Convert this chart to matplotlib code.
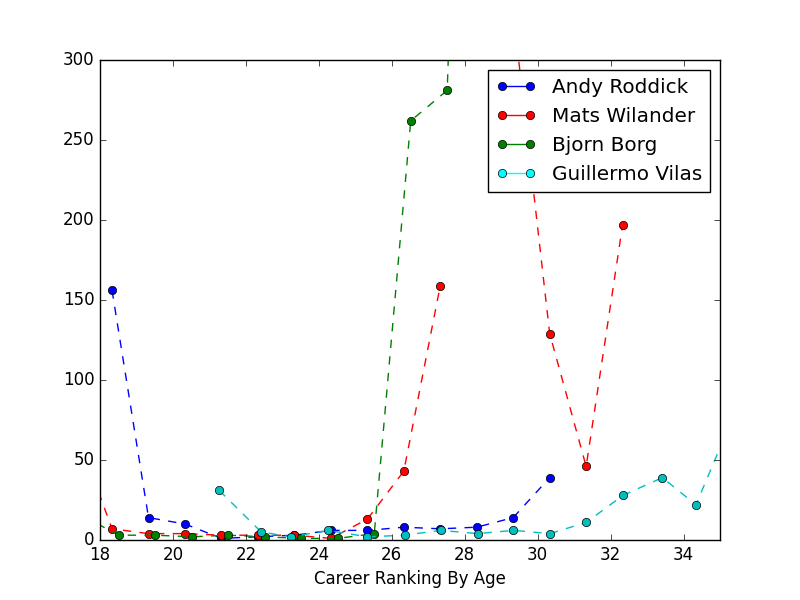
import numpy as np
import matplotlib
matplotlib.use('Agg')
import matplotlib.pyplot as plt
from matplotlib.lines import Line2D

plt.style.use('classic')

## Year-end ranking by age for each player
roddick_age = [18.33, 19.33, 20.33, 21.33, 22.33, 23.33, 24.33, 25.33, 26.33, 27.33, 28.33, 29.33, 30.33]
roddick_rank = [156, 14, 10, 1, 2, 3, 6, 6, 8, 7, 8, 14, 39]

wilander_age = [17.33, 18.33, 19.33, 20.33, 21.33, 22.33, 23.33, 24.33, 25.33, 26.33, 27.33,
                28.33, 29.33, 30.33, 31.33, 32.33]
wilander_rank = [69, 7, 4, 4, 3, 3, 3, 1, 13, 43, 159, np.nan, 330, 129, 46, 197]

borg_age = [17.52, 18.52, 19.52, 20.52, 21.52, 22.52, 23.52, 24.52, 25.52, 26.52, 27.52, 28.52]
borg_rank = [15, 3, 3, 2, 3, 2, 1, 1, 4, 262, 281, 950]

vilas_age = [21.27, 22.42, 23.24, 24.26, 25.33, 26.35, 27.34, 28.36, 29.33, 30.34, 31.33,
             32.35, 33.42, 34.34, 35.34]
vilas_rank = [31, 5, 2, 6, 2, 3, 6, 4, 6, 4, 11, 28, 39, 22, 76]

players = ['Andy Roddick', 'Mats Wilander', 'Bjorn Borg', 'Guillermo Vilas']
legend_colors = ['blue', 'red', 'green', 'cyan']

fig = plt.figure(figsize=(8, 6), facecolor='white')
ax = fig.add_subplot(111)

ax.plot(roddick_age, roddick_rank, 'b--o', mec='k', mew=0.5)
ax.plot(wilander_age, wilander_rank, 'r--o', mec='k', mew=0.5)
ax.plot(borg_age, borg_rank, 'g--o', mec='k', mew=0.5)
ax.plot(vilas_age, vilas_rank, 'c--o', mec='k', mew=0.5)

ax.set_xlim(18, 35)
ax.set_ylim(0, 300)
ax.set_xlabel('Career Ranking By Age')

# legend uses solid handles
handles = [Line2D([], [], color=c, marker='o', mec='k', mew=0.5, linestyle='-')
           for c in legend_colors]
ax.legend(handles, players, loc='upper right', numpoints=2, fontsize='large',
          handlelength=2.0)

fig.savefig('out.png', dpi=100, facecolor='white')
